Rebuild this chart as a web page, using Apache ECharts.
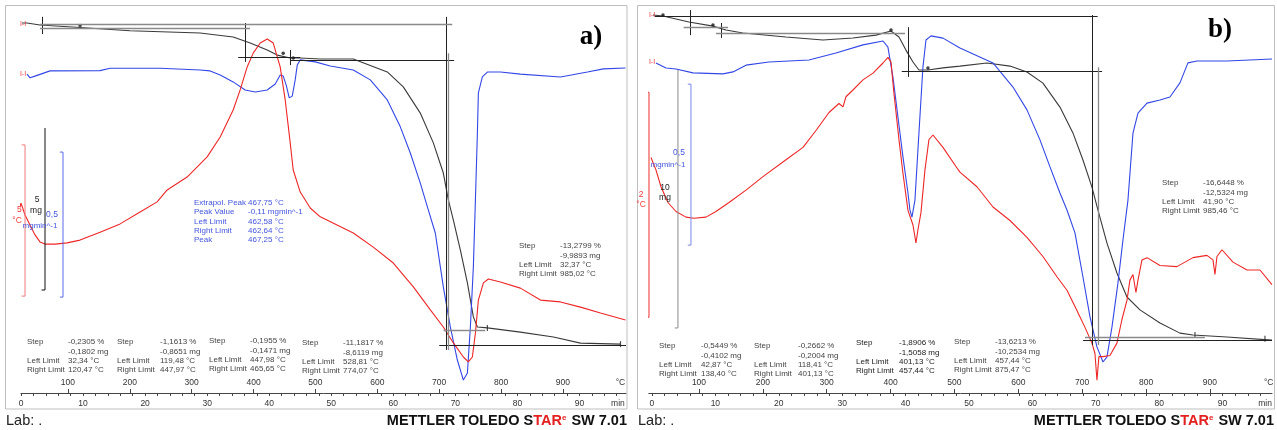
<!DOCTYPE html>
<html><head><meta charset="utf-8">
<script src="https://cdn.jsdelivr.net/npm/echarts@6/dist/echarts.min.js"></script>
<style>html,body{margin:0;padding:0;background:#fff}#c{width:1277px;height:430px}</style>
</head><body><div id="c"></div>
<script>
// ---------- DATA ----------
const minuteTicks = [0,10,20,30,40,50,60,70,80,90];
const minuteSubTicks = [0,2,4,6,8,10,12,14,16,18,20,22,24,26,28,30,32,34,36,38,40,42,44,46,48,50,52,54,56,58,60,62,64,66,68,70,72,74,76,78,80,82,84,86,88,90,92,94,96];
const tempTicks = [100,200,300,400,500,600,700,800,900];

// Panel a: [time min, value]
const tgaA = [[0.16,75.23],[0.97,75.23],[3.06,75.17],[9.52,75.09],[17.58,74.99],[28.87,74.92],[34.19,74.80],[36.94,74.61],[39.68,74.40],[41.29,74.24],[43.39,74.15],[45.0,74.15],[48.23,74.12],[53.55,74.12],[59.03,73.72],[61.61,73.26],[64.35,72.45],[66.45,71.53],[68.06,70.60],[68.87,69.77],[69.68,69.15],[70.81,68.22],[71.94,67.21],[72.9,66.16],[73.55,65.85],[75.16,65.82],[80.48,65.69],[85.81,65.54],[90.16,65.35],[96.61,65.32]];
const dtgA = [[0.97,-0.021],[1.45,-0.034],[2.26,-0.028],[4.68,-0.010],[12.74,-0.009],[14.35,-0.001],[22.42,-0.001],[28.87,-0.007],[30.48,-0.010],[32.1,-0.024],[34.19,-0.048],[36.13,-0.076],[37.74,-0.083],[39.68,-0.076],[40.97,-0.055],[41.77,-0.024],[42.26,-0.028],[42.74,-0.059],[43.23,-0.103],[43.71,-0.097],[44.19,-0.041],[44.52,0.010],[45.0,0.028],[47.42,0.021],[49.84,0.007],[53.55,-0.007],[56.29,-0.041],[59.03,-0.110],[61.13,-0.203],[62.74,-0.293],[64.35,-0.397],[65.65,-0.490],[66.77,-0.569],[68.06,-0.755],[69.19,-0.893],[70.32,-1.007],[71.29,-1.076],[71.94,-1.052],[72.42,-0.893],[72.9,-0.686],[73.23,-0.455],[73.55,-0.224],[73.71,-0.086],[74.35,-0.031],[75.16,-0.014],[77.26,-0.014],[80.48,-0.021],[86.94,-0.031],[91.29,-0.014],[93.87,-0.003],[97.42,0]];
const sdtaA = [[-0.32,1.14],[0,1.37],[0.65,0.98],[1.45,0.65],[2.26,0.33],[3.06,0.10],[3.87,0.03],[5.48,0.03],[7.42,0.07],[9.52,0.16],[12.74,0.42],[15.97,0.69],[19.19,1.08],[21.94,1.41],[23.55,1.80],[26.77,2.22],[30.0,2.88],[32.1,3.53],[34.19,4.41],[35.32,5.07],[36.45,5.82],[37.42,6.27],[38.55,6.60],[39.68,6.73],[40.65,6.60],[41.77,5.82],[42.58,4.74],[43.39,3.33],[43.87,2.45],[45.0,1.73],[46.61,1.21],[48.23,0.92],[53.55,0.39],[56.77,-0.07],[60.0,-0.59],[63.23,-1.37],[65.97,-2.12],[68.06,-2.68],[69.68,-3.20],[71.29,-3.66],[72.1,-3.82],[72.74,-3.66],[73.23,-2.88],[73.71,-1.80],[74.52,-1.24],[75.32,-1.11],[77.26,-1.21],[80.48,-1.41],[83.71,-1.80],[86.94,-1.86],[90.16,-2.03],[93.39,-2.22],[97.42,-2.45]];
const dotsA = [[9.52,75.15],[42.26,74.30],[43.87,74.15]];
const endMarksA = [[75.16,65.82],[96.61,65.32]];
// evaluation lines (mg units): [t1, m1, t2, m2]
const evalDarkA = [[3.39,75.42,3.39,74.89],[36.1,75.23,36.1,74.03],[35.0,74.18,45.0,74.18],[43.4,74.40,43.4,73.93],[43.4,74.09,69.8,74.09],[68.5,75.42,68.5,65.14],[67.4,65.29,97.5,65.29]];
const evalGrayA = [[3.06,75.2,69.5,75.2],[3.06,75.08,36.9,75.08],[68.9,74.30,68.9,65.14],[68.1,65.76,74.8,65.76]];
// scale bars as brackets, in each signal's units
const barRedA = [[0.1,3.27],[0.65,3.27],[0.65,-1.67],[0.1,-1.67]];      // 5 °C
const barTgaA = [[3.87,71.99],[3.87,66.99],[3.32,66.99]];               // 5 mg
const barDtgA = [[6.27,-0.29],[6.77,-0.29],[6.77,-0.79],[6.27,-0.79]];  // 0,5 mg/min

// Panel b
const tgaB = [[0.16,75.30],[1.74,75.26],[5.84,75.03],[9.62,74.87],[11.67,74.72],[14.35,74.60],[21.14,74.45],[26.97,74.33],[31.7,74.41],[35.33,74.52],[37.7,74.68],[38.96,74.45],[40.06,73.94],[41.17,73.48],[42.11,73.17],[43.53,73.17],[45.9,73.25],[48.58,73.32],[52.84,73.44],[56.47,73.32],[59.15,73.09],[61.67,72.66],[64.35,71.73],[66.4,70.73],[67.98,69.68],[69.4,68.63],[70.35,67.74],[71.77,66.46],[73.34,65.30],[74.92,64.37],[76.97,63.87],[80.13,63.36],[83.28,62.97],[85.33,62.90],[90.69,62.82],[97.8,62.70]];
const dtgB = [[0.63,-0.009],[2.21,-0.025],[3.79,-0.028],[6.47,-0.040],[11.2,-0.043],[12.78,-0.037],[14.83,-0.016],[18.45,-0.006],[24.76,0],[29.02,0.022],[33.28,0.047],[36.44,0.059],[37.22,0.040],[38.01,-0.053],[38.8,-0.177],[39.59,-0.301],[40.38,-0.413],[40.69,-0.466],[41.01,-0.488],[41.48,-0.435],[42.11,-0.227],[42.74,-0.022],[43.22,0.062],[44.01,0.075],[45.9,0.068],[48.58,0.037],[53.79,-0.009],[56.94,-0.084],[59.15,-0.155],[61.2,-0.248],[62.78,-0.332],[64.35,-0.413],[65.46,-0.466],[66.72,-0.537],[67.98,-0.674],[69.09,-0.798],[70.19,-0.891],[71.14,-0.938],[71.77,-0.922],[72.56,-0.829],[73.5,-0.693],[74.29,-0.559],[75.08,-0.435],[75.87,-0.227],[76.66,-0.165],[78.08,-0.134],[80.13,-0.124],[81.7,-0.115],[83.28,-0.071],[84.54,-0.009],[85.96,-0.003],[90.69,-0.003],[97.8,0.003]];
const sdtaB = [[-0.16,0.52],[0.63,0.41],[1.42,0.26],[2.52,0.12],[3.79,0.04],[5.36,-0.01],[6.62,-0.02],[8.52,-0.01],[10.09,0.04],[12.15,0.12],[14.83,0.23],[17.51,0.35],[21.14,0.50],[23.82,0.61],[25.87,0.76],[27.92,0.92],[29.5,1.00],[30.13,0.97],[30.6,1.06],[31.7,1.12],[33.28,1.21],[34.86,1.27],[36.44,1.36],[37.22,1.41],[37.7,1.37],[38.17,1.09],[38.96,0.68],[39.59,0.38],[40.38,0.05],[41.17,-0.08],[41.64,-0.24],[41.96,-0.12],[42.43,0.03],[43.06,0.41],[43.69,0.68],[44.32,0.72],[45.9,0.61],[47.95,0.44],[48.58,0.39],[51.26,0.26],[53.79,0.08],[56.47,-0.04],[59.15,-0.19],[61.67,-0.36],[63.88,-0.54],[65.46,-0.66],[67.03,-0.84],[68.3,-0.99],[69.4,-1.13],[69.87,-1.22],[70.19,-1.46],[70.5,-1.25],[71.14,-1.25],[72.24,-1.24],[73.34,-1.13],[74.13,-0.92],[74.92,-0.75],[75.39,-0.57],[75.87,-0.52],[76.34,-0.68],[76.66,-0.57],[77.29,-0.39],[78.08,-0.37],[80.13,-0.44],[82.81,-0.45],[85.33,-0.37],[87.54,-0.35],[88.49,-0.39],[88.8,-0.52],[89.12,-0.36],[89.91,-0.30],[91.64,-0.41],[93.85,-0.48],[95.9,-0.48],[97.79,-0.61]];
const dotsB = [[1.74,75.30],[9.62,74.91],[37.7,74.72],[43.53,73.25]];
const endMarksB = [[85.65,62.90],[96.69,62.75]];
const evalDarkB = [[0.47,75.26,70.3,75.26],[6.0,75.49,6.0,74.52],[11.0,74.99,11.0,74.41],[40.5,74.83,40.5,72.90],[39.4,73.13,71.0,73.13],[69.4,75.30,69.4,62.51],[68.0,62.70,97.8,62.70]];
const evalGrayB = [[5.0,74.83,12.0,74.83],[10.1,74.60,39.9,74.60],[70.35,73.28,70.35,62.51],[68.3,62.82,87.2,62.82]];
const barRedB = [[-0.95,1.10],[-0.47,1.10],[-0.47,-0.90],[-0.95,-0.90]];     // 2 °C
const barTgaB = [[4.10,73.17],[4.10,63.17],[3.6,63.17]];                    // 10 mg
const barDtgB = [[5.65,-0.075],[6.15,-0.075],[6.15,-0.575],[5.65,-0.575]];  // 0,5 mg/min

// Texts
const stepRowLabels = ['Step','','Left Limit','Right Limit'];
const stepsA = [['-0,2305 %','-0,1802 mg','32,34 °C','120,47 °C'],['-1,1613 %','-0,8651 mg','119,48 °C','447,97 °C'],['-0,1955 %','-0,1471 mg','447,98 °C','465,65 °C'],['-11,1817 %','-8,6119 mg','528,81 °C','774,07 °C'],['-13,2799 %','-9,9893 mg','32,37 °C','985,02 °C']];
const stepsB = [['-0,5449 %','-0,4102 mg','42,87 °C','138,40 °C'],['-0,2662 %','-0,2004 mg','118,41 °C','401,13 °C'],['-1,8906 %','-1,5058 mg','401,13 °C','457,44 °C'],['-13,6213 %','-10,2534 mg','457,44 °C','875,47 °C'],['-16,6448 %','-12,5324 mg','41,90 °C','985,46 °C']];
const peakLabelsA = ['Extrapol. Peak','Peak Value','Left Limit','Right Limit','Peak'];
const peakValuesA = ['467,75 °C','-0,11 mgmin^-1','462,58 °C','462,64 °C','467,25 °C'];

// ---------- BUILD ----------
const FF = '"Liberation Sans", Arial, sans-serif';
const C_TGA = '#3a3a3a', C_DTG = '#3347e6', C_SDTA = '#ee2626';

function minAxis(g, min, max, labelAt){
  return {type:'value', gridIndex:g, min:min, max:max, position:'bottom',
    axisLine:{show:true, onZero:false, lineStyle:{color:'#444', width:1}},
    axisTick:{show:true, length:3, customValues:minuteSubTicks, lineStyle:{color:'#444'}},
    splitLine:{show:false},
    axisLabel:{customValues:minuteTicks.concat([labelAt]), formatter:v=> v>95?'min':String(v),
      fontSize:8.5, color:'#333', margin:6, fontFamily:FF}};
}
function tempAxis(g, min, max, labelAt){
  return {type:'value', gridIndex:g, min:min, max:max, position:'top', offset:-388,
    axisLine:{show:false, onZero:false},
    axisTick:{show:true, inside:false, length:4, customValues:tempTicks, lineStyle:{color:'#444'}},
    splitLine:{show:false},
    axisLabel:{customValues:tempTicks.concat([labelAt]), formatter:v=> v>950?'°C':String(v),
      fontSize:8.5, color:'#333', margin:6, fontFamily:FF}};
}
function yA(g,min,max){ return {type:'value', gridIndex:g, min:min, max:max, show:false, splitLine:{show:false}}; }

function segItems(list, color, width){
  return list.map(s=>[{coord:[s[0],s[1]], lineStyle:{color:color, width:width, type:'solid'}},{coord:[s[2],s[3]]}]);
}
function ml(data){ return {silent:true, symbol:['none','none'], label:{show:false}, animation:false, lineStyle:{type:'solid'}, emphasis:{disabled:true}, data:data}; }
function line(data, xi, yi, color, width, mark){
  const s = {type:'line', xAxisIndex:xi, yAxisIndex:yi, data:data, symbol:'none', showSymbol:false,
    clip:false, silent:true, lineStyle:{color:color, width:width}, z:3};
  if (mark) s.markLine = ml(mark);
  return s;
}
function dots(data, xi, yi){
  return {type:'scatter', xAxisIndex:xi, yAxisIndex:yi, data:data, symbol:'circle', symbolSize:3.5,
    itemStyle:{color:'#111'}, silent:true, z:4};
}
function ends(data, xi, yi){
  return {type:'scatter', xAxisIndex:xi, yAxisIndex:yi, data:data, symbol:'rect', symbolSize:[1.2,6],
    itemStyle:{color:'#222'}, silent:true, z:4};
}

const series = [
  line(tgaA,0,0,C_TGA,1.1, segItems(evalDarkA,'#222',1).concat(segItems(evalGrayA,'#8a8a8a',1.3))),
  line(dtgA,0,1,C_DTG,1.1),
  line(sdtaA,0,2,C_SDTA,1.1),
  line(barTgaA,0,0,'#111',1), line(barDtgA,0,1,'#5a6be8',1), line(barRedA,0,2,'#f07a7a',1),
  dots(dotsA,0,0), ends(endMarksA,0,0),
  line(tgaB,2,3,C_TGA,1.1, segItems(evalDarkB,'#222',1).concat(segItems(evalGrayB,'#8a8a8a',1.3))),
  line(dtgB,2,4,C_DTG,1.1),
  line(sdtaB,2,5,C_SDTA,1.1),
  line(barTgaB,2,3,'#8a8a8a',1), line(barDtgB,2,4,'#7a86e8',1), line(barRedB,2,5,'#ee3030',1),
  dots(dotsB,2,3), ends(endMarksB,2,3)
];

// graphic texts
const G = [];
function T(x,y,text,o){
  o = o||{};
  G.push({type:'text', silent:true, z:100, style:{x:x, y:y, text:text, fill:o.c||'#333',
    font:(o.w||'normal')+' '+(o.s||8)+'px '+(o.f||FF), textAlign:o.a||'left', textVerticalAlign:'middle'}});
}
function frame(x,w){
  G.push({type:'rect', silent:true, z:-10, shape:{x:x, y:5.5, width:w, height:403.5}, style:{fill:'none', stroke:'#bfbfbf', lineWidth:1}});
}
frame(5.5, 621.5); frame(637.5, 637);

function stepBlocks(steps, pos, bold){
  steps.forEach((vals,i)=>{
    const p = pos[i];
    stepRowLabels.forEach((lab,r)=>{
      const y = p[2] + r*9.3;
      if (lab) T(p[0], y, lab, {c:bold&&i===2?'#222':'#444'});
      T(p[1], y, vals[r], {c:bold&&i===2?'#222':'#444'});
    });
  });
}
stepBlocks(stepsA, [[27,68,342],[117,160,342],[209,250,341],[302,343,343],[519,560,246]], false);
stepBlocks(stepsB, [[659,701,346],[754,798,346],[856,899,343],[954,995,342],[1162,1203,183]], true);
peakLabelsA.forEach((l,r)=>{ T(194, 203+r*9.25, l, {c:'#4455dd'}); T(248, 203+r*9.25, peakValuesA[r], {c:'#4455dd'}); });

// scale bar labels
T(17,210,'5',{c:'#ee3b3b',s:8.5}); T(17,221,'°C',{c:'#ee3b3b',s:8.5,a:'center'});
T(37,200,'5',{c:'#222',s:8.5,a:'center'}); T(36,211,'mg',{c:'#222',s:8.5,a:'center'});
T(52,215,'0,5',{c:'#4455dd',s:8.5,a:'center'}); T(40,226,'mgmin^-1',{c:'#4455dd',s:8,a:'center'});
T(641,195,'2',{c:'#ee3b3b',s:8.5,a:'center'}); T(641,205,'°C',{c:'#ee3b3b',s:8.5,a:'center'});
T(665,188,'10',{c:'#222',s:8.5,a:'center'}); T(665,198,'mg',{c:'#222',s:8.5,a:'center'});
T(679,153,'0,5',{c:'#4455dd',s:8.5,a:'center'}); T(668,165,'mgmin^-1',{c:'#4455dd',s:8,a:'center'});
// curve start markers
T(23,24,'I-I',{c:'#ee3b3b',s:7,a:'center'}); T(23,74,'I-I',{c:'#ee3b3b',s:7,a:'center'});
T(652,15,'I-I',{c:'#ee3b3b',s:7,a:'center'}); T(652,62,'I-I',{c:'#ee3b3b',s:7,a:'center'});
// panel letters
T(591,37,'a)',{c:'#000',s:27,w:'bold',f:'"Liberation Serif", "Times New Roman", serif',a:'center'});
T(1220,30,'b)',{c:'#000',s:27,w:'bold',f:'"Liberation Serif", "Times New Roman", serif',a:'center'});
// footer
T(6,421,'Lab: .',{c:'#222',s:14.5});
T(638,421,'Lab: .',{c:'#222',s:14.5});
function brand(xr){
  G.push({type:'text', silent:true, z:100, style:{x:xr, y:421, textAlign:'right', textVerticalAlign:'middle',
    text:'{n|METTLER TOLEDO S}{r|TAR}{s|e}{n| SW 7.01}',
    rich:{n:{fontSize:14.5, fontWeight:'bold', fontFamily:FF, fill:'#111', color:'#111'},
          r:{fontSize:14.5, fontWeight:'bold', fontFamily:FF, fill:'#e42020', color:'#e42020'},
          s:{fontSize:8, fontWeight:'bold', fontFamily:FF, fill:'#e42020', color:'#e42020', verticalAlign:'top', padding:[0,1,7,0]}}}});
}
brand(627); brand(1274);

const option = {
  animation:false,
  grid:[{left:21, top:5, width:605, height:388},{left:648.8, top:5, width:623.2, height:388}],
  xAxis:[minAxis(0,0,97.5,96.2), tempAxis(0,24.1,1002,993), minAxis(1,-0.5,97.8,96.7), tempAxis(1,21.44,997.2,992)],
  yAxis:[yA(0,63.811,75.786), yA(0,-1.1207,0.2172), yA(0,-4.8366,7.8431),
         yA(1,60.649,75.688), yA(1,-1.0342,0.1708), yA(1,-1.5733,1.8756)],
  series:series,
  graphic:G
};
const chart = echarts.init(document.getElementById('c'), null, {renderer:'canvas'});
chart.setOption(option);
</script></body></html>
